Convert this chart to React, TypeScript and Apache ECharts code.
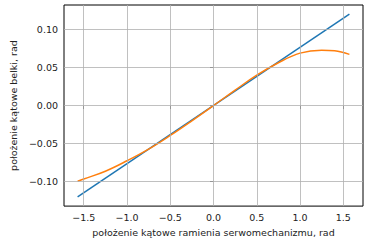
import React, { useEffect, useRef } from "react";
import * as echarts from "echarts";

const linearX = [-1.5708, 1.5708];
const linearY = [-0.12, 0.12];

const curveX = [-1.5708, -1.5, -1.25, -1.0, -0.75, -0.5, -0.25, 0, 0.25, 0.5, 0.75, 1.0, 1.25, 1.4, 1.5708];
const curveY = [-0.0993, -0.0965, -0.0862, -0.0725, -0.0572, -0.0393, -0.02, 0, 0.0203, 0.0398, 0.0562, 0.0688, 0.0727, 0.0718, 0.0672];

const xTicks = [-1.5, -1.0, -0.5, 0.0, 0.5, 1.0, 1.5];
const yTicks = [-0.1, -0.05, 0.0, 0.05, 0.1];

const xName = "położenie kątowe ramienia serwomechanizmu, rad";
const yName = "położenie kątowe belki, rad";

const FONT = "DejaVu Sans";
const TXT = "#222";

export default function App() {
  const ref = useRef<HTMLDivElement>(null);
  useEffect(() => {
    if (!ref.current) return;
    const chart = echarts.init(ref.current, undefined, { renderer: "svg" });
    const fmt = (d: number) => (v: number) => v.toFixed(d).replace("-", "\u2212");
    const gridLines = [
      ...xTicks.map((v) => ({ xAxis: v })),
      ...yTicks.map((v) => ({ yAxis: v })),
    ];
    chart.setOption({
      animation: false,
      backgroundColor: "#fff",
      grid: {
        left: 55,
        right: 7,
        top: 5,
        bottom: 35,
        show: true,
        borderColor: "#000",
        borderWidth: 1,
        backgroundColor: "transparent",
      },
      xAxis: {
        type: "value",
        min: -1.728,
        max: 1.728,
        splitLine: { show: false },
        axisLine: { show: false },
        axisTick: {
          show: true,
          customValues: xTicks,
          inside: false,
          length: 3.5,
          lineStyle: { color: "#000", width: 0.8 },
        },
        axisLabel: {
          customValues: xTicks,
          formatter: fmt(1),
          fontFamily: FONT,
          fontSize: 9.5,
          color: TXT,
          margin: 6,
        },
        name: xName,
        nameLocation: "middle",
        nameGap: 20,
        nameTextStyle: { fontFamily: FONT, fontSize: 9.5, color: TXT },
      },
      yAxis: {
        type: "value",
        min: -0.132,
        max: 0.132,
        splitLine: { show: false },
        axisLine: { show: false },
        axisTick: {
          show: true,
          customValues: yTicks,
          inside: false,
          length: 3.5,
          lineStyle: { color: "#000", width: 0.8 },
        },
        axisLabel: {
          customValues: yTicks,
          formatter: fmt(2),
          fontFamily: FONT,
          fontSize: 9.5,
          color: TXT,
          margin: 6,
        },
        name: yName,
        nameLocation: "middle",
        nameGap: 43,
        nameTextStyle: { fontFamily: FONT, fontSize: 9.5, color: TXT },
      },
      series: [
        {
          type: "line",
          data: [],
          silent: true,
          z: 1,
          markLine: {
            silent: true,
            symbol: "none",
            label: { show: false },
            lineStyle: { color: "#b0b0b0", width: 0.8, type: "solid" },
            data: gridLines,
            animation: false,
          },
        },
        {
          type: "line",
          data: linearX.map((x, i) => [x, linearY[i]]),
          showSymbol: false,
          lineStyle: { color: "#1f77b4", width: 1.5 },
          z: 3,
        },
        {
          type: "line",
          data: curveX.map((x, i) => [x, curveY[i]]),
          showSymbol: false,
          smooth: 0.4,
          lineStyle: { color: "#ff7f0e", width: 1.5 },
          z: 4,
        },
      ],
    });
    return () => chart.dispose();
  }, []);
  return (
    <div
      ref={ref}
      style={{ position: "fixed", left: 0, top: 0, width: 370, height: 242 }}
    />
  );
}
